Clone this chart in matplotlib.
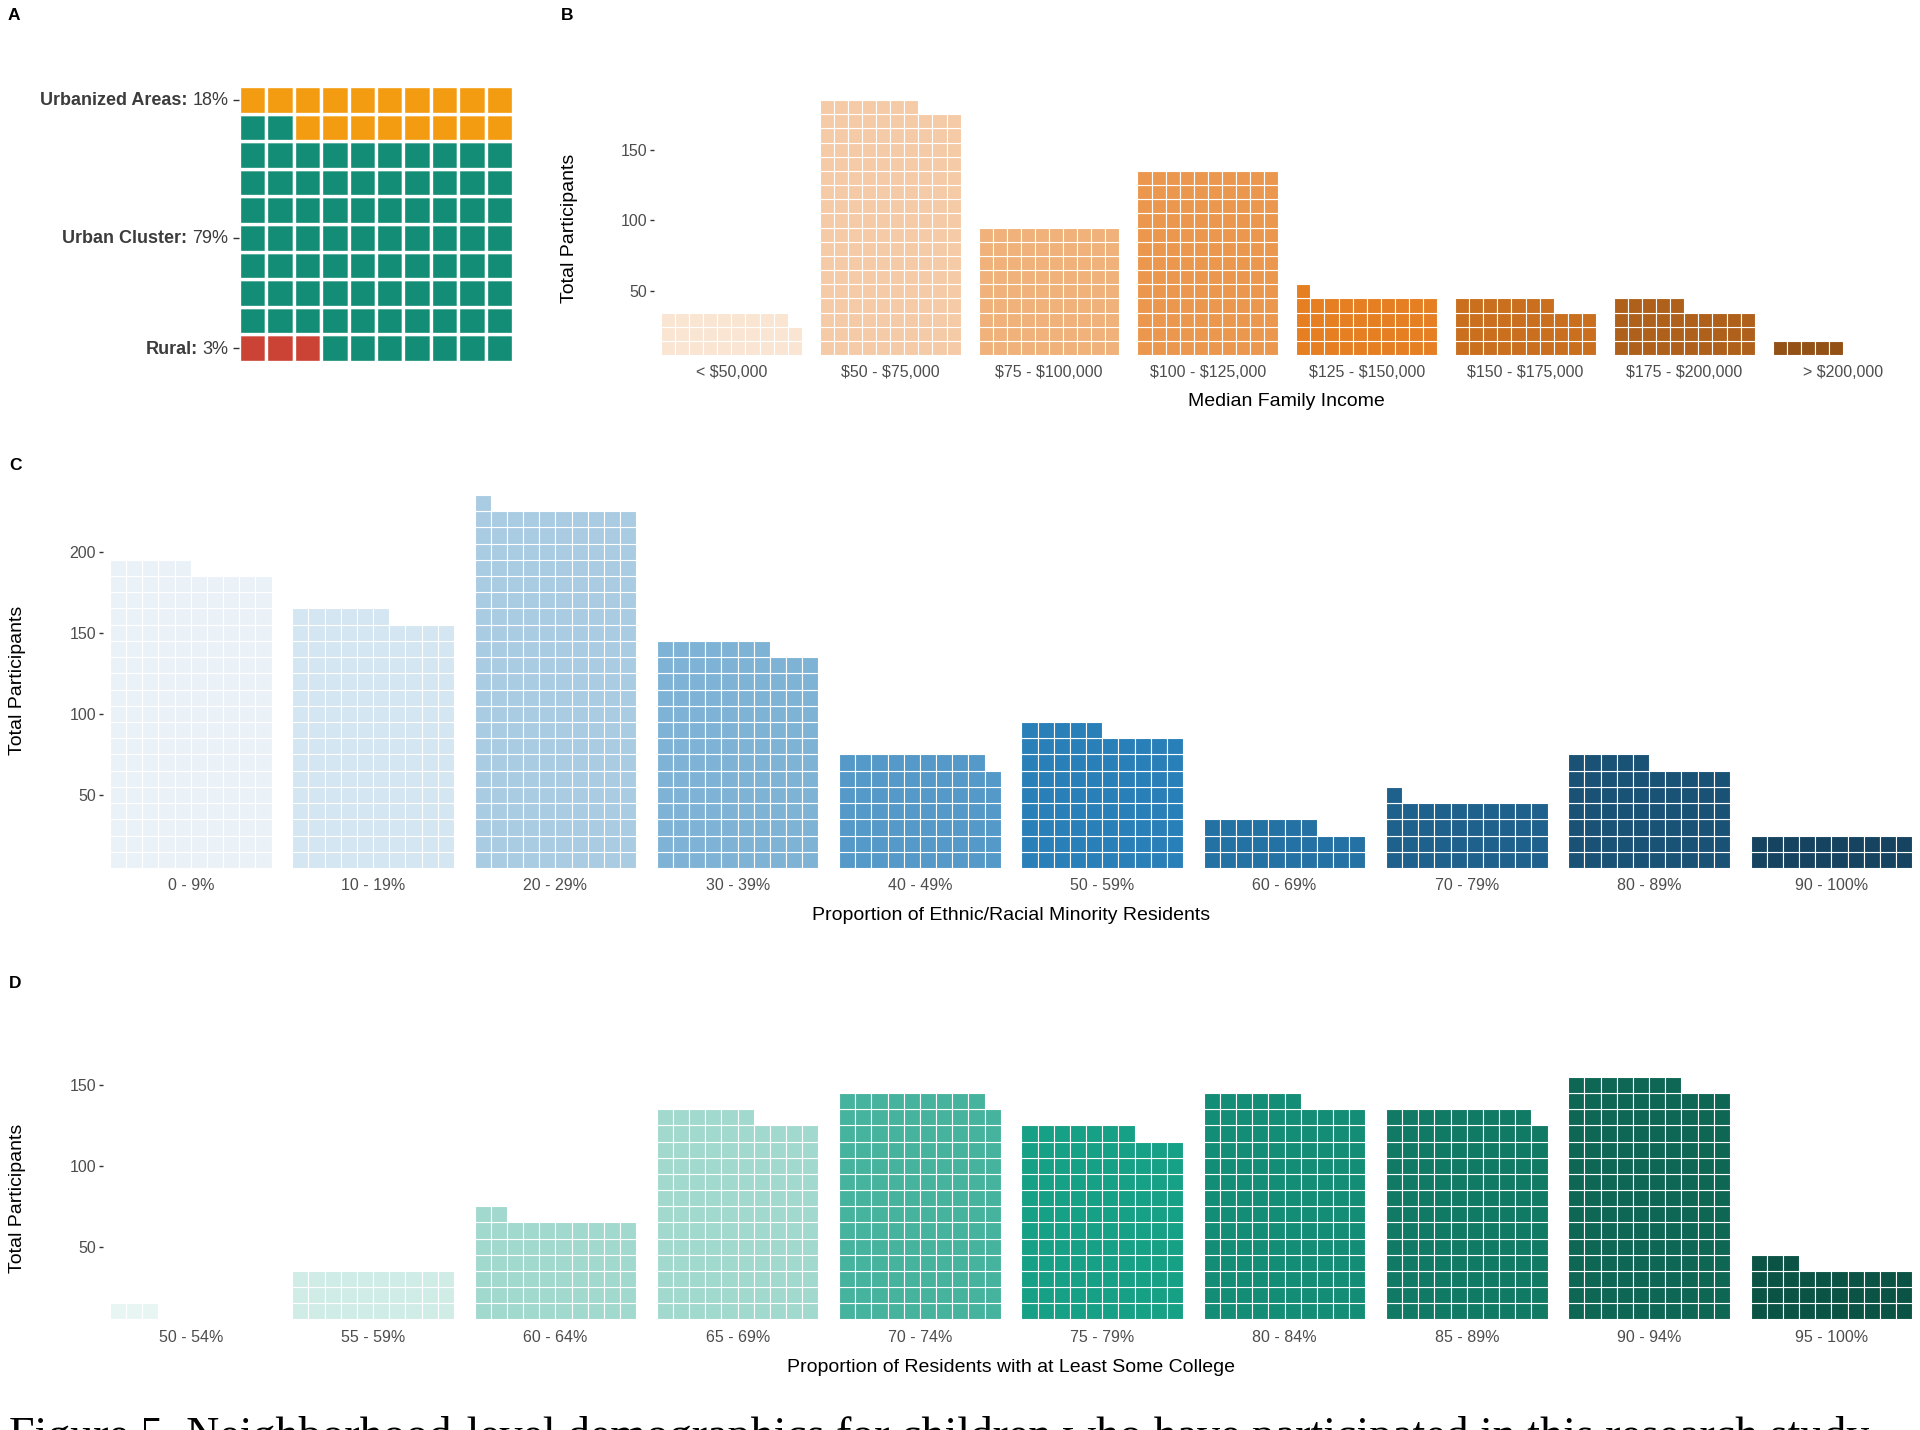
import matplotlib
matplotlib.use('Agg')
import matplotlib.pyplot as plt
from matplotlib.patches import Rectangle
from matplotlib.offsetbox import TextArea, HPacker, AnnotationBbox

plt.rcParams['font.family'] = ['Liberation Sans', 'DejaVu Sans']
plt.rcParams['text.parse_math'] = False

# ---------------- data ----------------
area_labels = ['Rural', 'Urban Cluster', 'Urbanized Areas']
area_pct = [3, 79, 18]
area_colors = ['#CB4335', '#138D75', '#F39C12']
area_label_rows = [0.5, 4.5, 9.5]

income_cats = ['< $50,000', '$50 - $75,000', '$75 - $100,000', '$100 - $125,000',
               '$125 - $150,000', '$150 - $175,000', '$175 - $200,000', '> $200,000']
income_counts = [29, 177, 90, 130, 41, 37, 35, 5]
income_colors = ['#FAE5D3', '#F5CBA7', '#F0B27A', '#EB984E',
                 '#E67E22', '#CA6F1E', '#AF601A', '#935116']

minority_cats = ['0 - 9%', '10 - 19%', '20 - 29%', '30 - 39%', '40 - 49%',
                 '50 - 59%', '60 - 69%', '70 - 79%', '80 - 89%', '90 - 100%']
minority_counts = [185, 156, 221, 137, 69, 85, 27, 41, 65, 20]
minority_colors = ['#EAF2F8', '#D4E6F1', '#A9CCE3', '#7FB3D5', '#5499C7',
                   '#2980B9', '#2471A3', '#1F618D', '#1A5276', '#154360']

college_cats = ['50 - 54%', '55 - 59%', '60 - 64%', '65 - 69%', '70 - 74%',
                '75 - 79%', '80 - 84%', '85 - 89%', '90 - 94%', '95 - 100%']
college_counts = [3, 30, 62, 126, 139, 117, 136, 129, 147, 33]
college_colors = ['#E8F6F3', '#D0ECE7', '#A2D9CE', '#A2D9CE', '#45B39D',
                  '#16A085', '#138D75', '#117A65', '#0E6655', '#0B5345']

caption = ("Figure 5. Neighborhood-level demographics for children who have "
           "participated in this research study")

# ---------------- layout helpers ----------------
W, H = 1920, 1430
fig = plt.figure(figsize=(W / 100, H / 100), dpi=100)
fig.patch.set_facecolor('white')

TICK_COL = '#4D4D4D'
TITLE_SIZE = 14
TICK_SIZE = 11.5


def ax_px(left, top, right, bottom):
    return fig.add_axes([left / W, 1 - bottom / H, (right - left) / W, (bottom - top) / H])


def clean(ax):
    for s in ax.spines.values():
        s.set_visible(False)
    ax.set_facecolor('white')


def waffle_bar_panel(counts, colors, cats, left_px, first_px, right_px, bottom_px,
                     tile_px, unit_px, yticks, gap=1.28, lw=0.8):
    ytop = (max(counts) + 9) // 10 * 10 + 5
    top_px = bottom_px - (ytop - 5) * unit_px
    ax = ax_px(left_px, top_px, right_px, bottom_px)
    clean(ax)
    pitch = 10 + gap
    for i, (n, col) in enumerate(zip(counts, colors)):
        for k in range(n):
            r, c = divmod(k, 10)
            ax.add_patch(Rectangle((i * pitch + c, 5 + 10 * r), 1, 10,
                                   facecolor=col, edgecolor='white', linewidth=lw))
    ax.set_xlim((left_px - first_px) / tile_px, (right_px - first_px) / tile_px)
    ax.set_ylim(5, ytop)
    ax.set_xticks([i * pitch + 5 for i in range(len(cats))])
    ax.set_xticklabels(cats)
    ax.set_yticks(yticks)
    ax.tick_params(axis='x', length=0, pad=7.5, labelsize=TICK_SIZE, labelcolor=TICK_COL)
    ax.tick_params(axis='y', length=3, width=1, color='#333333', pad=2,
                   labelsize=TICK_SIZE, labelcolor=TICK_COL)
    return ax


# ---------------- panel A ----------------
axA = ax_px(239, 86, 513, 362)
clean(axA)
k = 0
for n, col in zip(area_pct, area_colors):
    for _ in range(n):
        r, c = divmod(k, 10)
        axA.add_patch(Rectangle((c, r), 1, 1, facecolor=col, edgecolor='white', linewidth=2.4))
        k += 1
axA.set_xlim(0, 10)
axA.set_ylim(0, 10)
axA.set_xticks([])
axA.set_yticks(area_label_rows)
axA.set_yticklabels([])
axA.tick_params(axis='y', length=4, width=1, color='#333333', pad=0)
for lab, pct, yy in zip(area_labels, area_pct, area_label_rows):
    box = HPacker(children=[
        TextArea(lab + ':', textprops=dict(fontweight='bold', fontsize=13, color='#3C3C3C')),
        TextArea(f'{pct}%', textprops=dict(fontsize=13, color='#3C3C3C'))],
        align='baseline', pad=0, sep=3.6)
    ab = AnnotationBbox(box, (0, yy), xycoords=('axes fraction', 'data'),
                        xybox=(-7.5, -0.8), boxcoords='offset points',
                        box_alignment=(1, 0.5), frameon=False, pad=0)
    axA.add_artist(ab)

# ---------------- panel B ----------------
waffle_bar_panel(income_counts, income_colors, income_cats,
                 left_px=654, first_px=661, right_px=1918, bottom_px=355,
                 tile_px=14.08, unit_px=1.416, yticks=[50, 100, 150])

# ---------------- panel C ----------------
waffle_bar_panel(minority_counts, minority_colors, minority_cats,
                 left_px=103, first_px=110, right_px=1918, bottom_px=868,
                 tile_px=16.16, unit_px=1.622, yticks=[50, 100, 150, 200])

# ---------------- panel D ----------------
waffle_bar_panel(college_counts, college_colors, college_cats,
                 left_px=103, first_px=110, right_px=1918, bottom_px=1319.4,
                 tile_px=16.16, unit_px=1.617, yticks=[50, 100, 150])

# ---------------- titles / labels ----------------
def ftext(x, y, s, **kw):
    fig.text(x / W, 1 - y / H, s, **kw)

for letter, (x, y) in zip('ABCD', [(14, 15), (567, 15), (15, 466), (15, 984)]):
    ftext(x, y, letter, fontsize=12.5, fontweight='bold', ha='center', va='center', color='black')

ftext(1286, 402, 'Median Family Income', fontsize=TITLE_SIZE, ha='center', va='center')
ftext(1011, 915, 'Proportion of Ethnic/Racial Minority Residents', fontsize=TITLE_SIZE,
      ha='center', va='center')
ftext(1011, 1367, 'Proportion of Residents with at Least Some College', fontsize=TITLE_SIZE,
      ha='center', va='center')
for x, y in [(569, 228), (18, 680), (18, 1198)]:
    ftext(x, y, 'Total Participants', fontsize=TITLE_SIZE, ha='center', va='center', rotation=90)

# caption, cut off at bottom edge as in the reference
ftext(9, 1449, caption, fontsize=33, family=['Liberation Serif', 'DejaVu Serif'],
      ha='left', va='baseline', color='black')

fig.savefig('out.png', dpi=100, facecolor='white')
